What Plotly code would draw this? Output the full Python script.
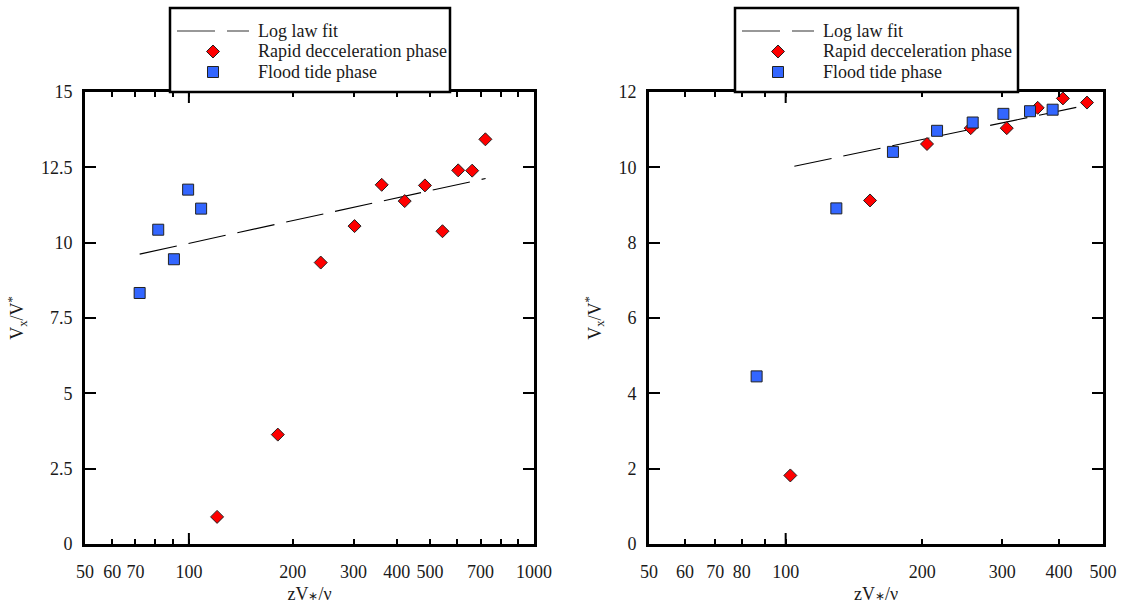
import math
import plotly.graph_objects as go

# ---- left panel: data ----
flood_x_left = [72, 81.5, 90.5, 99.5, 108.5]
flood_y_left = [8.33, 10.43, 9.45, 11.76, 11.13]
rapid_x_left = [120.7, 181, 241, 302, 362, 422, 483, 543, 603, 662, 723]
rapid_y_left = [0.9, 3.63, 9.34, 10.55, 11.92, 11.38, 11.9, 10.38, 12.4, 12.39, 13.43]
fit_x_left = [72, 724]
fit_y_left = [9.62, 12.13]

# ---- right panel: data ----
flood_x_right = [86.3, 129.3, 172.3, 215.5, 258.2, 301.7, 345.3, 387.3]
flood_y_right = [4.45, 8.91, 10.41, 10.97, 11.19, 11.42, 11.49, 11.53]
rapid_x_right = [102.4, 153.4, 204.8, 255.6, 306.9, 359, 408, 461]
rapid_y_right = [1.82, 9.12, 10.62, 11.04, 11.04, 11.58, 11.83, 11.72]
fit_x_right = [104.5, 461]
fit_y_right = [10.03, 11.65]

# ---- tick labels ----
xticks_left = [50, 60, 70, 100, 200, 300, 400, 500, 700, 1000]
xminor_left = [80, 90, 600, 800, 900]
xticks_right = [50, 60, 70, 80, 100, 200, 300, 400, 500]
xminor_right = [90]
yticks_left = [0, 2.5, 5, 7.5, 10, 12.5, 15]
yticks_right = [0, 2, 4, 6, 8, 10, 12]

W, H = 1125, 605
FONT = "Liberation Serif"
INK = "#1a1a1a"
RED = "#ff0000"
BLUE = "#3366ff"
DASH = "38px,12px"
FS = 18

fig = go.Figure()


def add_panel(xa, ya, fx, fy, rx, ry, bx, by):
    fig.add_trace(go.Scatter(x=fx, y=fy, mode="lines", xaxis=xa, yaxis=ya,
                             line=dict(color="black", width=1.1, dash=DASH),
                             showlegend=False, hoverinfo="skip"))
    fig.add_trace(go.Scatter(x=rx, y=ry, mode="markers", xaxis=xa, yaxis=ya,
                             marker=dict(symbol="diamond", size=10, color=RED,
                                         line=dict(color="#222", width=1)),
                             showlegend=False))
    fig.add_trace(go.Scatter(x=bx, y=by, mode="markers", xaxis=xa, yaxis=ya,
                             marker=dict(symbol="square", size=11, color=BLUE,
                                         line=dict(color="#222", width=1)),
                             showlegend=False))


add_panel("x", "y", fit_x_left, fit_y_left, rapid_x_left, rapid_y_left,
          flood_x_left, flood_y_left)
add_panel("x2", "y2", fit_x_right, fit_y_right, rapid_x_right, rapid_y_right,
          flood_x_right, flood_y_right)

tickfont = dict(family=FONT, size=FS, color=INK)
common = dict(showline=True, linecolor="black", linewidth=3, mirror="ticks",
              ticks="inside", tickcolor="black", tickwidth=2, showgrid=False,
              zeroline=False, tickfont=tickfont, automargin=False)

x_title = "zV<span style='font-size:12px'>∗</span>/ν"
y_title = "V<sub>x</sub>/V<sup>*</sup>"
title_font = dict(family=FONT, size=FS, color=INK)

y_dom = [1 - 544 / H, 1 - 92 / H]


def xaxis_cfg(dom, lo, hi, ticks, minor):
    return dict(common, type="log", domain=dom,
                range=[math.log10(lo), math.log10(hi)],
                tickmode="array", tickvals=ticks,
                ticktext=[str(t) for t in ticks], ticklen=5,
                ticklabelstandoff=9,
                minor=dict(tickmode="array", tickvals=minor, ticks="inside",
                           ticklen=5, tickwidth=2, tickcolor="black"),
                title=dict(text=x_title, font=title_font, standoff=7))


def yaxis_cfg(anchor, hi, ticks):
    return dict(common, domain=y_dom, anchor=anchor, range=[0, hi],
                tickmode="array", tickvals=ticks,
                ticktext=[f"{t:g}" for t in ticks], ticklen=11,
                ticklabelstandoff=6,
                title=dict(text=y_title, font=title_font, standoff=13))


fig.update_layout(
    width=W, height=H,
    margin=dict(l=0, r=0, t=0, b=0),
    paper_bgcolor="white", plot_bgcolor="white",
    showlegend=False,
    xaxis=dict(xaxis_cfg([85 / W, 534 / W], 50, 1000, xticks_left, xminor_left), anchor="y"),
    yaxis=yaxis_cfg("x", 15, yticks_left),
    xaxis2=dict(xaxis_cfg([649 / W, 1103 / W], 50, 500, xticks_right, xminor_right), anchor="y2"),
    yaxis2=yaxis_cfg("x2", 12, yticks_right),
)

# longer major tick at 100 on bottom and top edges
long_frac = 11 / (544 - 92)
for xr, yr in (("x", "y domain"), ("x2", "y2 domain")):
    for y0, y1 in ((0, long_frac), (1, 1 - long_frac)):
        fig.add_shape(type="line", xref=xr, yref=yr, x0=100, x1=100, y0=y0, y1=y1,
                      line=dict(color="black", width=2))


# boxed key above each panel
def add_key(left, right, line_x0, sym_x, text_x):
    top, bottom = 8, 92
    fig.add_shape(type="rect", xref="paper", yref="paper",
                  x0=left / W, x1=right / W, y0=1 - bottom / H, y1=1 - top / H,
                  line=dict(color="black", width=2.5), fillcolor="white")
    fig.add_shape(type="line", xref="paper", yref="paper",
                  x0=line_x0 / W, x1=(line_x0 + 72) / W, y0=1 - 31 / H, y1=1 - 31 / H,
                  line=dict(color="#333", width=1.1, dash=DASH))
    d = 6.5
    fig.add_shape(type="path", xref="paper", yref="paper",
                  xsizemode="pixel", ysizemode="pixel",
                  xanchor=sym_x / W, yanchor=1 - 51.5 / H,
                  path=f"M {-d} 0 L 0 {d} L {d} 0 L 0 {-d} Z",
                  fillcolor=RED, line=dict(color="#222", width=1))
    s = 5.5
    fig.add_shape(type="path", xref="paper", yref="paper",
                  xsizemode="pixel", ysizemode="pixel",
                  xanchor=sym_x / W, yanchor=1 - 72 / H,
                  path=f"M {-s} {-s} L {s} {-s} L {s} {s} L {-s} {s} Z",
                  fillcolor=BLUE, line=dict(color="#222", width=1))
    for ty, txt in ((31, "Log law fit"), (51.5, "Rapid decceleration phase"),
                    (72, "Flood tide phase")):
        fig.add_annotation(xref="paper", yref="paper", x=text_x / W, y=1 - ty / H,
                           text=txt, showarrow=False, xanchor="left", yanchor="middle",
                           font=dict(family=FONT, size=FS, color=INK))


add_key(170, 450, 177, 213, 256)
add_key(735, 1018, 742, 778, 821)

fig.write_html("out.html")
